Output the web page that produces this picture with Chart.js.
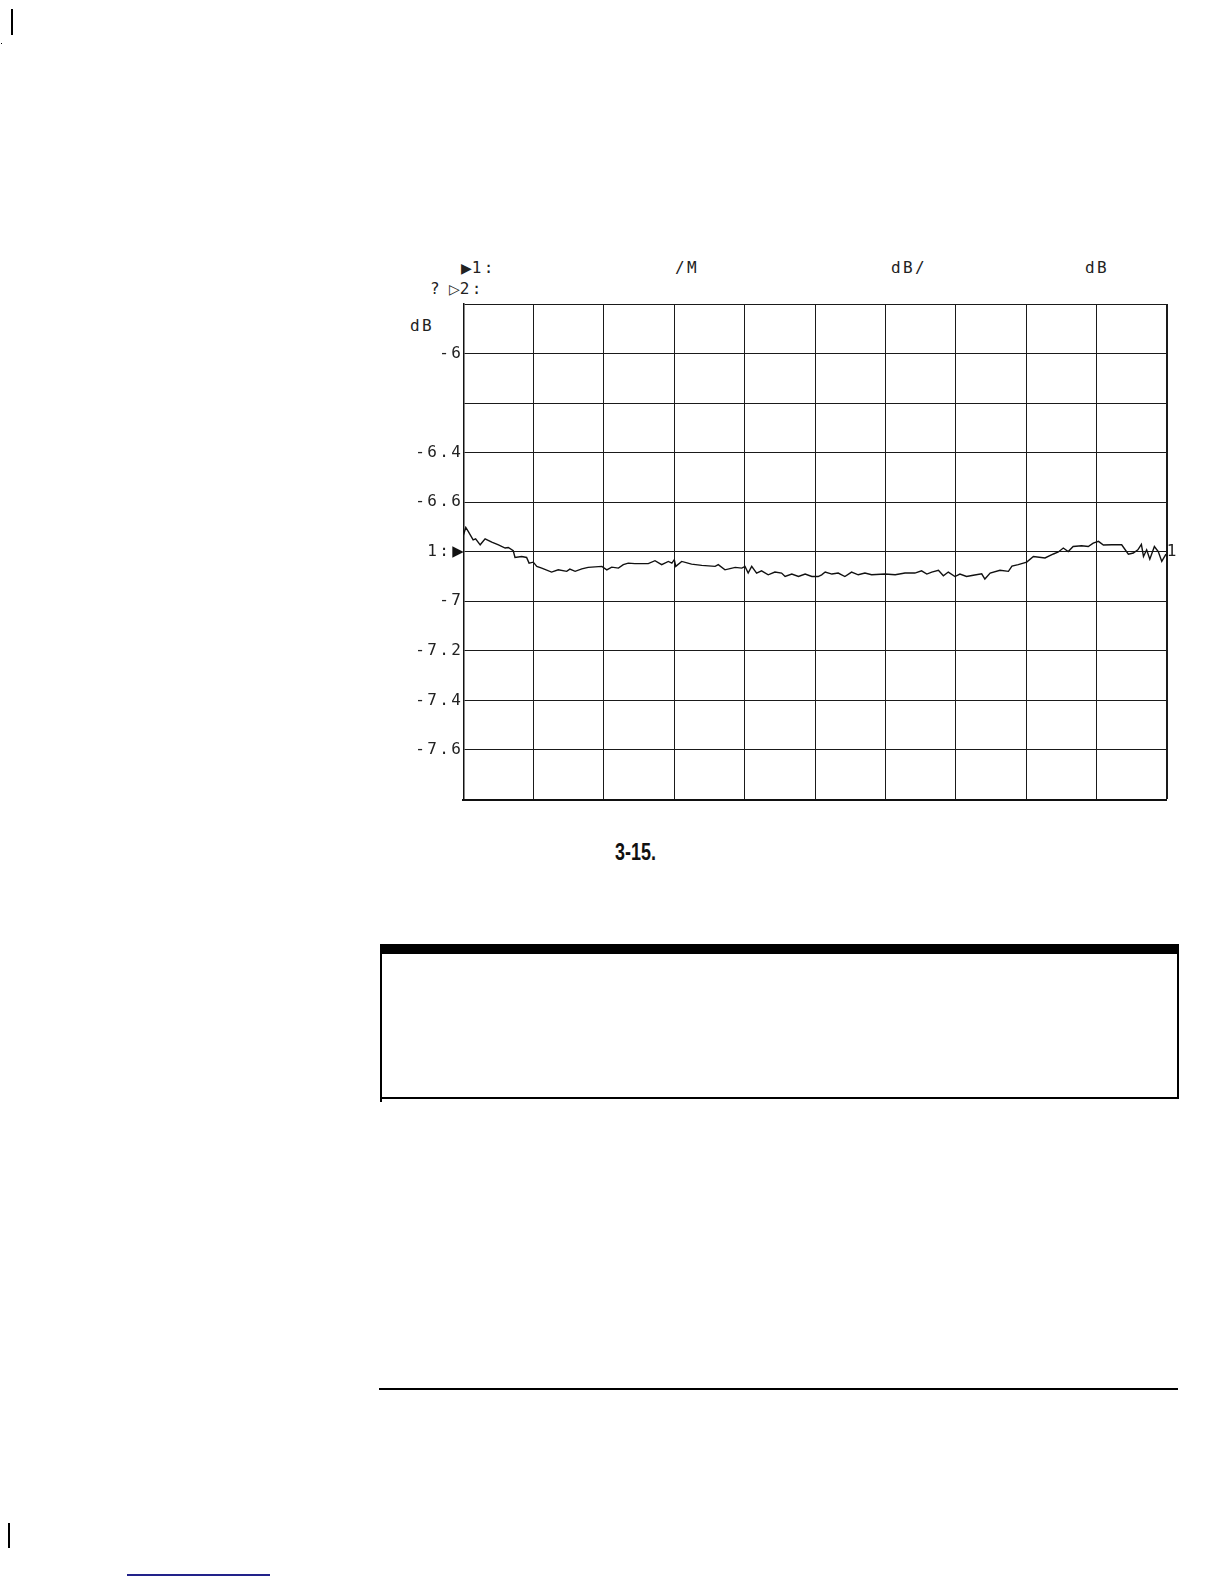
<!DOCTYPE html>
<html>
<head>
<meta charset="utf-8">
<script src="https://cdn.jsdelivr.net/npm/chart.js@4"></script>
<style>
  html, body { margin:0; padding:0; background:#fff; }
  body { width:1224px; height:1584px; position:relative; overflow:hidden; font-family:"DejaVu Sans Mono", monospace; color:#222; }
  .t { position:absolute; font-family:"DejaVu Sans Mono", monospace; font-size:16px; line-height:1; white-space:pre; color:#222; letter-spacing:2.4px; }
  .tri { font-family:"DejaVu Sans", sans-serif; letter-spacing:0; }
  #wrap { position:absolute; left:380px; top:290px; width:820px; height:525px; }
  .cap { position:absolute; left:615px; top:841px; font-family:"Liberation Sans",sans-serif; font-weight:bold; font-size:23px; line-height:1; color:#111; transform:scaleX(0.78); transform-origin:0 0; }
  .blk { position:absolute; background:#000; }
</style>
</head>
<body>
<!-- margin marks -->
<div class="blk" style="left:11px;top:9px;width:2px;height:26px;"></div>
<div class="blk" style="left:1px;top:43px;width:1px;height:1px;"></div>
<div class="blk" style="left:8px;top:1523px;width:1.5px;height:25px;"></div>
<div class="blk" style="left:127px;top:1574px;width:143px;height:2px;background:#22228a;"></div>

<!-- header texts -->
<div class="t" style="left:461px;top:260px;"><span class="tri" style="font-size:14px;">▶</span>1:</div>
<div class="t" style="left:675px;top:260px;">/M</div>
<div class="t" style="left:891px;top:260px;">dB/</div>
<div class="t" style="left:1085px;top:260px;">dB</div>
<div class="t" style="left:430px;top:281px;">?</div>
<div class="t" style="left:449px;top:281px;"><span class="tri" style="font-size:14px;">▷</span>2:</div>
<div class="t" style="left:410px;top:318px;">dB</div>

<div id="wrap"><canvas id="c"></canvas></div>

<div class="cap">3-15.</div>

<!-- boxed area -->
<div class="blk" style="left:380px;top:944px;width:799px;height:10px;"></div>
<div class="blk" style="left:380px;top:950px;width:2px;height:152px;"></div>
<div class="blk" style="left:1177px;top:944px;width:2px;height:155px;"></div>
<div class="blk" style="left:380px;top:1097px;width:799px;height:2px;"></div>

<!-- bottom rule -->
<div class="blk" style="left:379px;top:1388px;width:799px;height:2px;"></div>

<script>
// ---- data ----
const xMin = 0, xMax = 200, xStep = 20;
const yMin = -7.8, yMax = -5.8, yStep = 0.2;
const yTickValues = [-6, -6.4, -6.6, -6.8, -7, -7.2, -7.4, -7.6];
const yTickText   = ['-6', '-6.4', '-6.6', '1: ', '-7', '-7.2', '-7.4', '-7.6'];
const refValue = -6.8;
const refMarkerText = '1';
const refArrowText = '▶';

const traceX = [0,0.7,1.4,2.8,3.5,4.8,6.2,8.1,10,11.9,12.8,14.2,14.7,16.6,18,18.7,19.9,20.9,22.3,25.1,
  27,29.4,30.3,31.8,33.7,35.5,39.4,40.8,42.2,44.1,45.5,46.9,48.8,52.6,54.5,56.4,58.3,59.3,60,60.4,
  62.1,64.9,67.8,71.6,72.5,74.4,77.3,79.2,80.1,81,82,83.4,84.8,86.7,88.6,90.5,91.5,93.4,95.3,97.2,
  99.1,100.9,101.9,102.9,104.8,106.6,108.5,110.4,112.3,114.2,116.1,119.9,122.8,125.6,128.4,130.3,131.8,133.2,135.1,136.5,
  137.9,139.8,141.2,143.1,145,147.4,148.3,149.8,152.6,155,156,157.8,160.2,162.1,165.4,167.8,169.2,170.6,172,173.4,
  175.8,177.7,179.1,180.6,182,184.4,187.2,189.1,190.5,191.8,192.8,193.4,194.3,195.2,196.5,197.6,198.6,199.8];
const traceY = [-6.735,-6.702,-6.718,-6.752,-6.748,-6.772,-6.748,-6.761,-6.772,-6.785,
  -6.783,-6.796,-6.823,-6.819,-6.823,-6.846,-6.842,-6.859,-6.866,-6.882,
  -6.873,-6.879,-6.870,-6.879,-6.869,-6.863,-6.859,-6.873,-6.862,-6.866,
  -6.852,-6.846,-6.848,-6.848,-6.836,-6.852,-6.839,-6.846,-6.832,-6.859,
  -6.839,-6.850,-6.855,-6.859,-6.852,-6.873,-6.863,-6.866,-6.859,-6.886,
  -6.859,-6.886,-6.877,-6.893,-6.882,-6.886,-6.900,-6.890,-6.900,-6.890,
  -6.900,-6.900,-6.893,-6.882,-6.890,-6.886,-6.900,-6.882,-6.893,-6.886,
  -6.893,-6.890,-6.893,-6.886,-6.886,-6.877,-6.890,-6.882,-6.875,-6.897,
  -6.882,-6.900,-6.890,-6.900,-6.895,-6.889,-6.910,-6.886,-6.875,-6.879,
  -6.858,-6.852,-6.842,-6.819,-6.825,-6.809,-6.801,-6.785,-6.799,-6.779,
  -6.776,-6.779,-6.765,-6.758,-6.773,-6.772,-6.772,-6.810,-6.805,-6.792,
  -6.770,-6.819,-6.792,-6.830,-6.779,-6.799,-6.839,-6.810];

// ---- chart ----
const points = traceX.map((x, i) => ({ x: x, y: traceY[i] }));
const monoFont = '"DejaVu Sans Mono", monospace';

const textSpacing = {
  id: 'textSpacing',
  beforeDraw(chart) { chart.ctx.letterSpacing = '2.4px'; }
};

const refMarker = {
  id: 'refMarker',
  afterDraw(chart) {
    const ctx = chart.ctx, a = chart.chartArea;
    const y = chart.scales.y.getPixelForValue(refValue);
    ctx.save();
    ctx.letterSpacing = '0px';
    ctx.fillStyle = '#222';
    ctx.textBaseline = 'middle';
    ctx.font = '16px ' + monoFont;
    ctx.textAlign = 'left';
    ctx.fillText(refMarkerText, a.right, y);
    ctx.fillStyle = '#111';
    ctx.font = '15px "DejaVu Sans", sans-serif';
    ctx.textAlign = 'right';
    ctx.fillText(refArrowText, a.left + 0.5, y + 0.5);
    ctx.restore();
  }
};

function labelFor(v) {
  for (let i = 0; i < yTickValues.length; i++) {
    if (Math.abs(v - yTickValues[i]) < 1e-6) return yTickText[i];
  }
  return '';
}

new Chart(document.getElementById('c'), {
  type: 'line',
  data: {
    datasets: [{
      data: points,
      borderColor: '#111',
      borderWidth: 1.4,
      pointRadius: 0,
      tension: 0,
      fill: false
    }]
  },
  options: {
    responsive: true,
    maintainAspectRatio: false,
    animation: false,
    events: [],
    layout: { padding: { top: 14, right: 33.3, bottom: 15.5, left: 0 } },
    plugins: { legend: { display: false }, tooltip: { enabled: false } },
    scales: {
      x: {
        type: 'linear', min: xMin, max: xMax,
        ticks: { display: false, stepSize: xStep },
        grid: {
          color: '#1a1a1a',
          lineWidth: ctx => (ctx.tick && ctx.tick.value === xMax) ? 2 : 1,
          drawTicks: false
        },
        border: { display: true, color: '#111', width: 2 },
        afterFit: s => { s.height = 0; }
      },
      y: {
        type: 'linear', min: yMin, max: yMax,
        ticks: {
          stepSize: yStep,
          padding: 0,
          color: '#222',
          font: { family: monoFont, size: 16 },
          callback: v => labelFor(v),
          autoSkip: false
        },
        grid: { color: '#1a1a1a', lineWidth: 1, drawTicks: false },
        border: { display: true, color: '#111', width: 1.5 },
        afterFit: s => { s.width = 83.3; }
      }
    }
  },
  plugins: [textSpacing, refMarker]
});
</script>
</body>
</html>
